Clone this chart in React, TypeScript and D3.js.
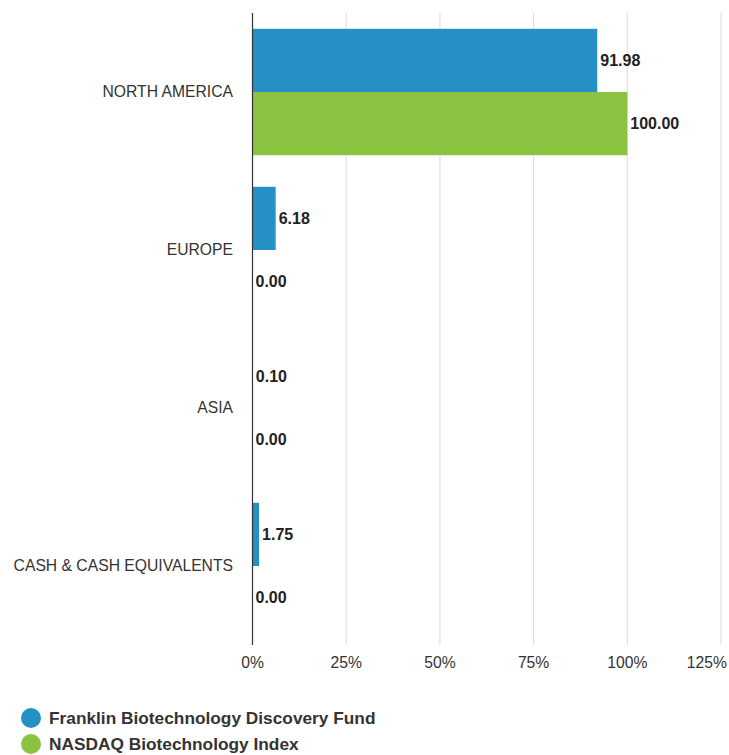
import React from "react";
import * as d3 from "d3";

const categories = ["NORTH AMERICA", "EUROPE", "ASIA", "CASH & CASH EQUIVALENTS"];
const fundValues = [91.98, 6.18, 0.1, 1.75];
const indexValues = [100.0, 0.0, 0.0, 0.0];
const seriesNames = ["Franklin Biotechnology Discovery Fund", "NASDAQ Biotechnology Index"];
const xTicks = [0, 25, 50, 75, 100, 125];
const colors = ["#2490C5", "#8BC240"];

const W = 729;
const H = 755;
const left = 252.5;
const right = 721;
const top = 13;
const bottom = 645;
const font = "'Liberation Sans', Arial, sans-serif";

export default function App() {
  const x = d3.scaleLinear().domain([0, 125]).range([left, right]);
  const y = d3.scaleBand<string>().domain(categories).range([top, bottom]).paddingInner(0.2).paddingOuter(0.1);
  const series = [fundValues, indexValues];
  const inner = d3.scaleBand<number>().domain([0, 1]).range([0, y.bandwidth()]);

  return (
    <svg width={W} height={H} style={{ position: "absolute", left: 0, top: 0, background: "#fff" }}>
      {xTicks.slice(1).map((t) => (
        <line key={t} x1={x(t)} x2={x(t)} y1={top} y2={bottom} stroke="#dcdcdc" strokeWidth={1} />
      ))}
      {categories.map((c, ci) =>
        series.map((vals, si) => {
          const v = vals[ci];
          const y0 = (y(c) as number) + (inner(si) as number);
          return (
            <g key={c + si}>
              <rect x={x(0)} y={y0} width={Math.max(0, x(v) - x(0))} height={inner.bandwidth()} fill={colors[si]} />
              <text
                x={x(v) + 3}
                y={y0 + inner.bandwidth() / 2}
                dy="0.35em"
                fontFamily={font}
                fontWeight="bold"
                fontSize={16}
                fill="#222"
              >
                {v.toFixed(2)}
              </text>
            </g>
          );
        })
      )}
      <line x1={x(0)} x2={x(0)} y1={top} y2={bottom} stroke="#333" strokeWidth={1.2} />
      {categories.map((c) => (
        <text
          key={c}
          x={233}
          y={(y(c) as number) + y.bandwidth() / 2}
          dy="0.35em"
          textAnchor="end"
          fontFamily={font}
          fontSize={15.7}
          fill="#333"
        >
          {c}
        </text>
      ))}
      {xTicks.map((t, i) => {
        const last = i === xTicks.length - 1;
        return (
          <text
            key={t}
            x={last ? W - 2 : x(t)}
            y={663}
            dy="0.35em"
            textAnchor={last ? "end" : "middle"}
            fontFamily={font}
            fontSize={15.7}
            fill="#333"
          >
            {t}%
          </text>
        );
      })}
      {seriesNames.map((n, i) => (
        <g key={n}>
          <circle cx={31} cy={718 + i * 26} r={10} fill={colors[i]} />
          <text x={49} y={718 + i * 26} dy="0.35em" fontFamily={font} fontWeight="bold" fontSize={17.3} fill="#333">
            {n}
          </text>
        </g>
      ))}
    </svg>
  );
}
